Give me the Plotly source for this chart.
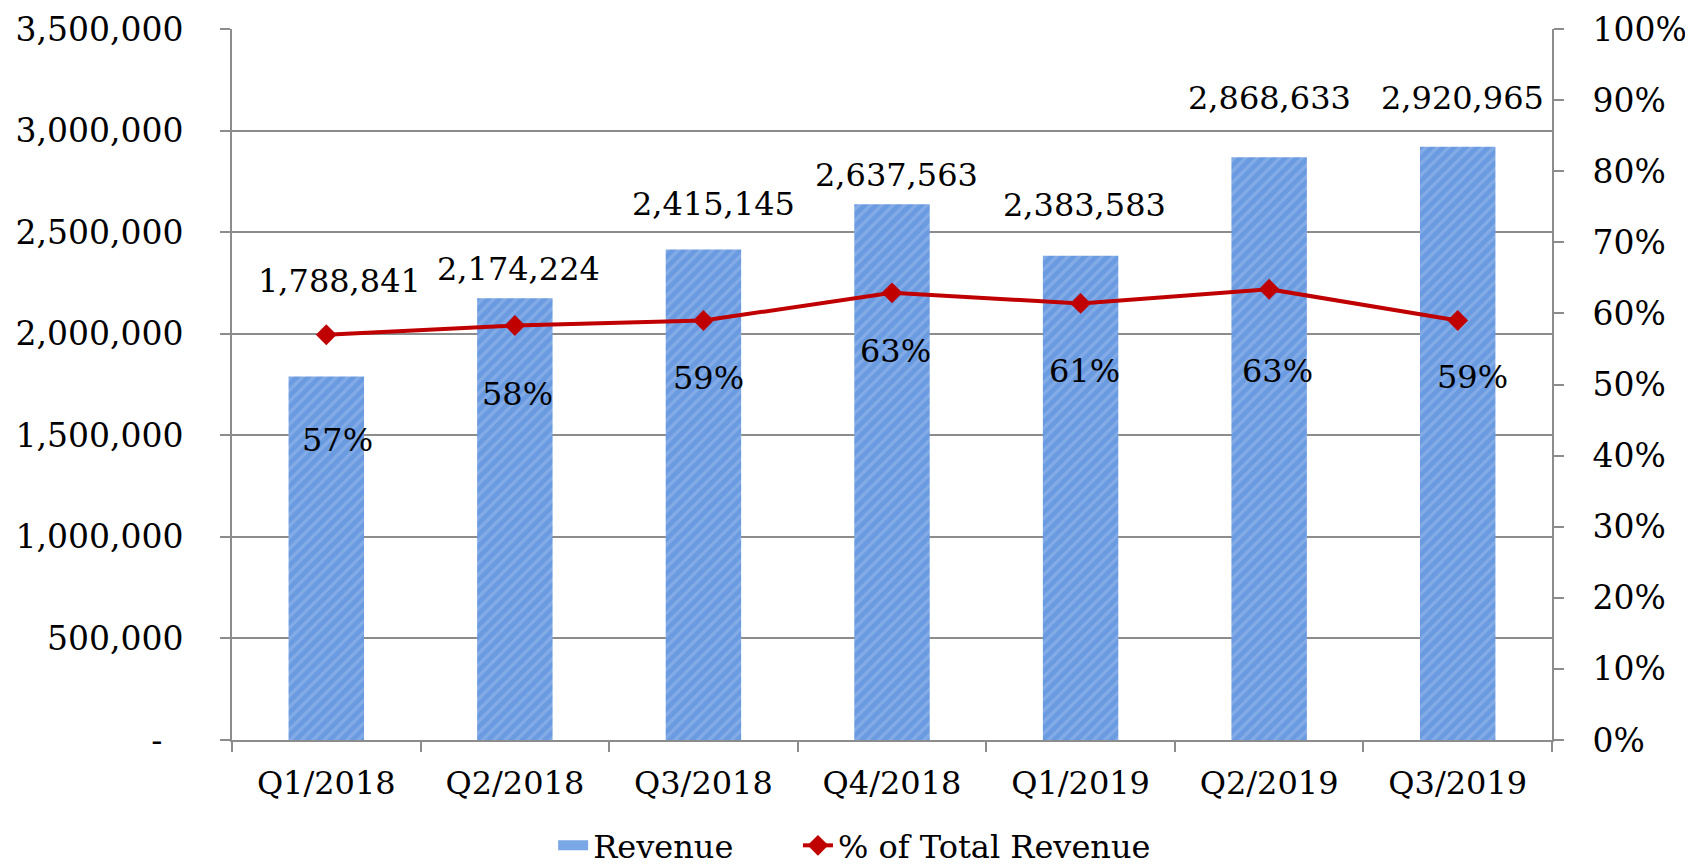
import plotly.graph_objects as go

categories = ["Q1/2018", "Q2/2018", "Q3/2018", "Q4/2018", "Q1/2019", "Q2/2019", "Q3/2019"]
revenue = [1788841, 2174224, 2415145, 2637563, 2383583, 2868633, 2920965]
pct_total = [0.57, 0.583, 0.59, 0.629, 0.614, 0.634, 0.59]

left_tickvals = [0, 500000, 1000000, 1500000, 2000000, 2500000, 3000000, 3500000]
left_ticktext = ["-\u00a0\u00a0", "500,000", "1,000,000", "1,500,000", "2,000,000", "2,500,000", "3,000,000", "3,500,000"]
right_tickvals = [i / 10 for i in range(11)]
right_ticktext = [f"{i*10}%" for i in range(11)]

# label offsets (styling, pixels)
rev_label_dy = [96, 29, 45, 29, 51, 59, 49]
rev_label_dx = [13, 4, 10, 4, 4, 0, 5]
pct_label_dy = [-105, -69, -57, -58, -68, -82, -56]
pct_label_dx = [11, 3, 5, 3, 4, 8, 15]

FONT = "DejaVu Serif"
GRID = "#8c8c8c"
FS = 32
BAR_BG = "#6a9ae0"
BAR_FG = "#9bbdee"

fig = go.Figure()
fig.add_trace(go.Bar(
    x=categories, y=revenue, name="Revenue", showlegend=False,
    marker=dict(color=BAR_BG,
                pattern=dict(shape="/", fgcolor=BAR_FG, bgcolor=BAR_BG, size=8, solidity=0.4),
                line=dict(width=0)),
    yaxis="y",
))
# legend proxy for the bar series (wider swatch than plotly's default bar square)
fig.add_trace(go.Scatter(
    x=[categories[0]], y=[None], name="Revenue", mode="lines",
    line=dict(color="#7aa7e6", width=22), yaxis="y", legend="legend", hoverinfo="skip",
))
fig.add_trace(go.Scatter(
    x=categories, y=pct_total, name="% of Total Revenue", mode="lines+markers",
    line=dict(color="#c00000", width=4),
    marker=dict(symbol="diamond", size=16, color="#c00000"),
    yaxis="y2", legend="legend2",
))

annotations = []
for i, (c, v) in enumerate(zip(categories, revenue)):
    annotations.append(dict(x=c, y=v, xref="x", yref="y", text=f"{v:,}", showarrow=False,
                            yanchor="middle", yshift=rev_label_dy[i], xshift=rev_label_dx[i],
                            font=dict(family=FONT, size=FS, color="black")))
for i, (c, p) in enumerate(zip(categories, pct_total)):
    annotations.append(dict(x=c, y=p, xref="x", yref="y2", text=f"{round(p*100)}%", showarrow=False,
                            yanchor="middle", yshift=pct_label_dy[i], xshift=pct_label_dx[i],
                            font=dict(family=FONT, size=FS, color="black")))

fig.update_layout(
    width=1693, height=867,
    margin=dict(l=224, r=149, t=21, b=135, autoexpand=False),
    paper_bgcolor="white", plot_bgcolor="white",
    font=dict(family=FONT, size=FS, color="black"),
    bargap=0.6,
    showlegend=True,
    legend=dict(orientation="h", xref="container", yref="container", x=0.322, xanchor="left",
                y=0.034, yanchor="middle", font=dict(family=FONT, size=FS), bgcolor="rgba(0,0,0,0)"),
    legend2=dict(orientation="h", xref="container", yref="container", x=0.4666, xanchor="left",
                 y=0.034, yanchor="middle", font=dict(family=FONT, size=FS), bgcolor="rgba(0,0,0,0)"),
    xaxis=dict(showline=True, linecolor=GRID, linewidth=2, ticks="outside", tickson="boundaries",
               ticklen=10, tickcolor=GRID, tickwidth=2, showgrid=False,
               tickfont=dict(family=FONT, size=FS), ticklabelstandoff=14),
    yaxis=dict(range=[0, 3500000], tickvals=left_tickvals, ticktext=left_ticktext,
               showgrid=True, gridcolor=GRID, gridwidth=2, showline=True, linecolor=GRID, linewidth=2,
               ticks="outside", ticklen=10, tickcolor=GRID, tickwidth=2, zeroline=False,
               tickfont=dict(family=FONT, size=FS + 1), ticklabelstandoff=30,
               ticklabeloverflow="allow"),
    yaxis2=dict(range=[0, 1], tickvals=right_tickvals, ticktext=right_ticktext, overlaying="y", side="right",
                showgrid=False, showline=True, linecolor=GRID, linewidth=2, ticks="outside", ticklen=10,
                tickcolor=GRID, tickwidth=2, zeroline=False, tickfont=dict(family=FONT, size=FS + 1),
                ticklabelstandoff=22, ticklabeloverflow="allow"),
    annotations=annotations,
)

fig.write_html("out.html")
